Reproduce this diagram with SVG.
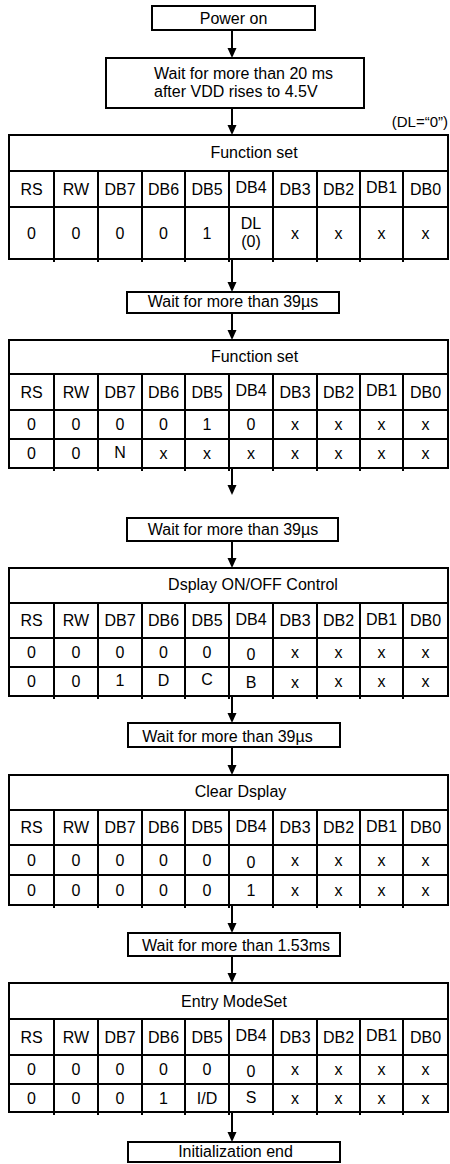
<svg xmlns="http://www.w3.org/2000/svg" width="450" height="1164" viewBox="0 0 450 1164">
<style>
.b{fill:#fff;stroke:#000;stroke-width:2}
.l{stroke:#000;stroke-width:2;fill:none}
text{font-family:"Liberation Sans",Arial,sans-serif;font-size:16px;fill:#000}
.c{text-anchor:middle}
</style>
<defs>
<marker id="ah" markerWidth="10" markerHeight="10" refX="1" refY="5" orient="auto" markerUnits="userSpaceOnUse"><path d="M0,0.5 L10,5 L0,9.5 z" fill="#000"/></marker>
<g id="cols"><path class="l" d="M54,0V1M98,0V1"/></g>
</defs>
<rect width="450" height="1164" fill="#fff"/>
<g id="connectors" class="l" marker-end="url(#ah)">
<path d="M232,30V49"/>
<path d="M232,108V126"/>
<path d="M232,259V283"/>
<path d="M232,313V331"/>
<path d="M232,468V486"/>
<path d="M232,541V559"/>
<path d="M232,696V714"/>
<path d="M232,747V766"/>
<path d="M232,905V924"/>
<path d="M232,956V974"/>
<path d="M232,1112V1133"/>
</g>
<g id="power-on"><rect class="b" x="152" y="6" width="163" height="24"/><text class="c" x="233.5" y="24">Power on</text></g>
<g id="wait-20ms"><rect class="b" x="106" y="58" width="258" height="50"/><text x="154" y="79">Wait for more than 20 ms</text><text x="154" y="97">after VDD rises to 4.5V</text></g>
<text id="dl-note" x="448" y="127" text-anchor="end" style="font-size:15px">(DL=“0”)</text>
<g id="function-set-1">
<rect class="b" x="9" y="135" width="439" height="124"/>
<path class="l" d="M9,171H448M9,207H448M54,171V262M98,171V262M142,171V262M185,171V262M229,171V262M273,171V262M317,171V262M360,171V262M403,171V262"/>
<text class="c" x="254" y="158">Function set</text>
<g class="c"><text class="c" x="31.5" y="194.5">RS</text><text class="c" x="76" y="194.5">RW</text><text class="c" x="120" y="194.5">DB7</text><text class="c" x="163.5" y="194.5">DB6</text><text class="c" x="207" y="194.5">DB5</text><text class="c" x="251" y="193">DB4</text><text class="c" x="295" y="194.5">DB3</text><text class="c" x="338.5" y="194.5">DB2</text><text class="c" x="381.5" y="193">DB1</text><text class="c" x="425.5" y="194.5">DB0</text></g>
<text class="c" x="31.5" y="238.5">0</text><text class="c" x="76" y="238.5">0</text><text class="c" x="120" y="238.5">0</text><text class="c" x="163.5" y="238.5">0</text><text class="c" x="207" y="238.5">1</text><text class="c" x="251" y="229">DL</text><text class="c" x="251" y="247">(0)</text><text class="c" x="295" y="238.5">x</text><text class="c" x="338.5" y="238.5">x</text><text class="c" x="381.5" y="238.5">x</text><text class="c" x="425.5" y="238.5">x</text>
</g>
<g id="wait-39us-1"><rect class="b" x="127" y="292" width="212" height="21"/><text class="c" x="233" y="307">Wait for more than 39µs</text></g>
<g id="function-set-2">
<rect class="b" x="9" y="340" width="439" height="128"/>
<path class="l" d="M9,374H448M9,410H448M9,439H448M54,374V471M98,374V471M142,374V471M185,374V471M229,374V471M273,374V471M317,374V471M360,374V471M403,374V471"/>
<text class="c" x="254.5" y="362">Function set</text>
<text class="c" x="31.5" y="397.5">RS</text><text class="c" x="76" y="397.5">RW</text><text class="c" x="120" y="397.5">DB7</text><text class="c" x="163.5" y="397.5">DB6</text><text class="c" x="207" y="397.5">DB5</text><text class="c" x="251" y="396">DB4</text><text class="c" x="295" y="397.5">DB3</text><text class="c" x="338.5" y="397.5">DB2</text><text class="c" x="381.5" y="396">DB1</text><text class="c" x="425.5" y="397.5">DB0</text>
<text class="c" x="31.5" y="430">0</text><text class="c" x="76" y="430">0</text><text class="c" x="120" y="430">0</text><text class="c" x="163.5" y="430">0</text><text class="c" x="207" y="430">1</text><text class="c" x="251" y="430">0</text><text class="c" x="295" y="430">x</text><text class="c" x="338.5" y="430">x</text><text class="c" x="381.5" y="430">x</text><text class="c" x="425.5" y="430">x</text>
<text class="c" x="31.5" y="459">0</text><text class="c" x="76" y="459">0</text><text class="c" x="120" y="458">N</text><text class="c" x="163.5" y="459">x</text><text class="c" x="207" y="459">x</text><text class="c" x="251" y="459">x</text><text class="c" x="295" y="459">x</text><text class="c" x="338.5" y="459">x</text><text class="c" x="381.5" y="459">x</text><text class="c" x="425.5" y="459">x</text>
</g>
<g id="wait-39us-2"><rect class="b" x="127" y="518" width="211" height="23"/><text class="c" x="233" y="535">Wait for more than 39µs</text></g>
<g id="display-control">
<rect class="b" x="9" y="568" width="439" height="128"/>
<path class="l" d="M9,603H448M9,638H448M9,667H448M54,603V699M98,603V699M142,603V699M185,603V699M229,603V699M273,603V699M317,603V699M360,603V699M403,603V699"/>
<text class="c" x="253" y="590">Dsplay ON/OFF Control</text>
<text class="c" x="31.5" y="626">RS</text><text class="c" x="76" y="626">RW</text><text class="c" x="120" y="626">DB7</text><text class="c" x="163.5" y="626">DB6</text><text class="c" x="207" y="626">DB5</text><text class="c" x="251" y="624.5">DB4</text><text class="c" x="295" y="626">DB3</text><text class="c" x="338.5" y="626">DB2</text><text class="c" x="381.5" y="624.5">DB1</text><text class="c" x="425.5" y="626">DB0</text>
<text class="c" x="31.5" y="658">0</text><text class="c" x="76" y="658">0</text><text class="c" x="120" y="658">0</text><text class="c" x="163.5" y="658">0</text><text class="c" x="207" y="658">0</text><text class="c" x="251" y="660">0</text><text class="c" x="295" y="658">x</text><text class="c" x="338.5" y="658">x</text><text class="c" x="381.5" y="658">x</text><text class="c" x="425.5" y="658">x</text>
<text class="c" x="31.5" y="687">0</text><text class="c" x="76" y="687">0</text><text class="c" x="120" y="686">1</text><text class="c" x="163.5" y="686">D</text><text class="c" x="207" y="685">C</text><text class="c" x="251" y="688">B</text><text class="c" x="295" y="688">x</text><text class="c" x="338.5" y="687">x</text><text class="c" x="381.5" y="687">x</text><text class="c" x="425.5" y="687">x</text>
</g>
<g id="wait-39us-3"><rect class="b" x="128" y="723" width="212" height="24"/><text class="c" x="227.5" y="741.5">Wait for more than 39µs</text></g>
<g id="clear-display">
<rect class="b" x="9" y="775" width="439" height="130"/>
<path class="l" d="M9,810H448M9,845H448M9,875H448M54,810V908M98,810V908M142,810V908M185,810V908M229,810V908M273,810V908M317,810V908M360,810V908M403,810V908"/>
<text class="c" x="240.5" y="797">Clear Dsplay</text>
<text class="c" x="31.5" y="833">RS</text><text class="c" x="76" y="833">RW</text><text class="c" x="120" y="833">DB7</text><text class="c" x="163.5" y="833">DB6</text><text class="c" x="207" y="833">DB5</text><text class="c" x="251" y="831.5">DB4</text><text class="c" x="295" y="833">DB3</text><text class="c" x="338.5" y="833">DB2</text><text class="c" x="381.5" y="831.5">DB1</text><text class="c" x="425.5" y="833">DB0</text>
<text class="c" x="31.5" y="865.5">0</text><text class="c" x="76" y="865.5">0</text><text class="c" x="120" y="865.5">0</text><text class="c" x="163.5" y="865.5">0</text><text class="c" x="207" y="865.5">0</text><text class="c" x="251" y="867.5">0</text><text class="c" x="295" y="865.5">x</text><text class="c" x="338.5" y="865.5">x</text><text class="c" x="381.5" y="865.5">x</text><text class="c" x="425.5" y="865.5">x</text>
<text class="c" x="31.5" y="895.5">0</text><text class="c" x="76" y="895.5">0</text><text class="c" x="120" y="895.5">0</text><text class="c" x="163.5" y="895.5">0</text><text class="c" x="207" y="895.5">0</text><text class="c" x="251" y="895.5">1</text><text class="c" x="295" y="895.5">x</text><text class="c" x="338.5" y="895.5">x</text><text class="c" x="381.5" y="895.5">x</text><text class="c" x="425.5" y="895.5">x</text>
</g>
<g id="wait-153ms"><rect class="b" x="128" y="933" width="212" height="23"/><text class="c" x="236" y="950.5">Wait for more than 1.53ms</text></g>
<g id="entry-mode-set">
<rect class="b" x="9" y="983" width="439" height="129"/>
<path class="l" d="M9,1019H448M9,1055H448M9,1084H448M54,1019V1115M98,1019V1115M142,1019V1115M185,1019V1115M229,1019V1115M273,1019V1115M317,1019V1115M360,1019V1115M403,1019V1115"/>
<text class="c" x="234" y="1007">Entry ModeSet</text>
<text class="c" x="31.5" y="1042.5">RS</text><text class="c" x="76" y="1042.5">RW</text><text class="c" x="120" y="1042.5">DB7</text><text class="c" x="163.5" y="1042.5">DB6</text><text class="c" x="207" y="1042.5">DB5</text><text class="c" x="251" y="1041">DB4</text><text class="c" x="295" y="1042.5">DB3</text><text class="c" x="338.5" y="1042.5">DB2</text><text class="c" x="381.5" y="1041">DB1</text><text class="c" x="425.5" y="1042.5">DB0</text>
<text class="c" x="31.5" y="1075">0</text><text class="c" x="76" y="1075">0</text><text class="c" x="120" y="1075">0</text><text class="c" x="163.5" y="1075">0</text><text class="c" x="207" y="1075">0</text><text class="c" x="251" y="1077">0</text><text class="c" x="295" y="1075">x</text><text class="c" x="338.5" y="1075">x</text><text class="c" x="381.5" y="1075">x</text><text class="c" x="425.5" y="1075">x</text>
<text class="c" x="31.5" y="1103.5">0</text><text class="c" x="76" y="1103.5">0</text><text class="c" x="120" y="1103.5">0</text><text class="c" x="163.5" y="1103.5">1</text><text class="c" x="207" y="1103.5">I/D</text><text class="c" x="251" y="1102.5">S</text><text class="c" x="295" y="1103.5">x</text><text class="c" x="338.5" y="1103.5">x</text><text class="c" x="381.5" y="1103.5">x</text><text class="c" x="425.5" y="1103.5">x</text>
</g>
<g id="init-end"><rect class="b" x="128" y="1142" width="212" height="20"/><text class="c" x="235.5" y="1157">Initialization end</text></g>
</svg>
